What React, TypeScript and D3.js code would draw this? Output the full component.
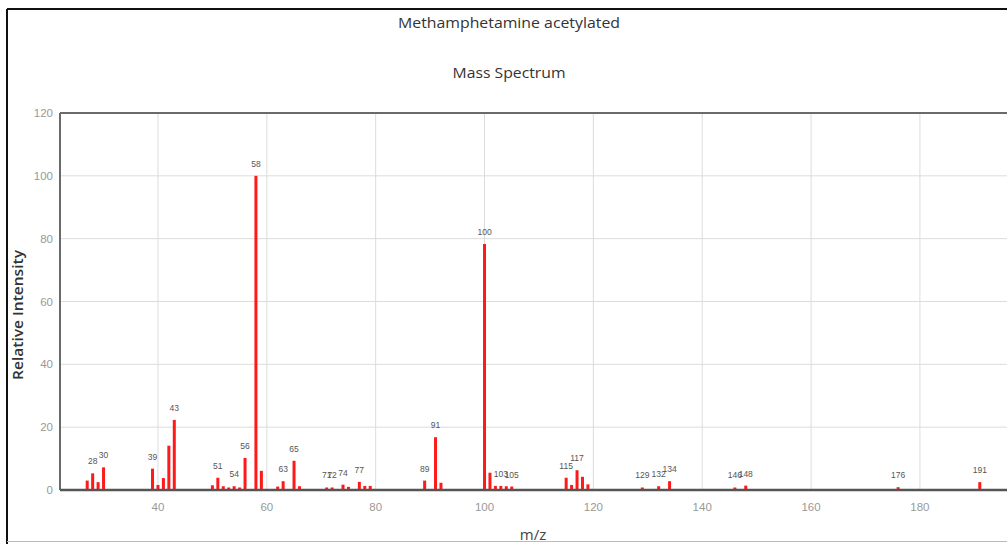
import React from "react";
import * as d3 from "d3";

const mzValues = [27, 28, 29, 30, 39, 40, 41, 42, 43, 50, 51, 52, 53, 54, 55, 56, 58, 59, 62, 63, 65, 66, 71, 72, 74, 75, 77, 78, 79, 89, 91, 92, 100, 101, 102, 103, 104, 105, 115, 116, 117, 118, 119, 129, 132, 134, 146, 148, 176, 191];
const intensities = [3, 5.3, 2.5, 7.2, 6.8, 1.6, 3.8, 14.1, 22.3, 1.5, 3.9, 1.2, 0.8, 1.2, 0.8, 10.2, 100, 6.1, 1.1, 2.8, 9.3, 1.2, 0.8, 0.8, 1.7, 1.0, 2.6, 1.3, 1.3, 3.0, 16.8, 2.3, 78.3, 5.5, 1.3, 1.3, 1.2, 1.1, 3.9, 1.6, 6.3, 4.2, 1.8, 0.8, 1.2, 2.8, 0.8, 1.4, 0.9, 2.5];
const labeledPeaks = [28, 30, 39, 43, 51, 54, 56, 58, 63, 65, 71, 72, 74, 77, 89, 91, 100, 103, 105, 115, 117, 129, 132, 134, 146, 148, 176, 191];
const xTicks = [40, 60, 80, 100, 120, 140, 160, 180];
const yTicks = [0, 20, 40, 60, 80, 100, 120];
const titleText = "Methamphetamine acetylated";
const subtitleText = "Mass Spectrum";
const xLabel = "m/z";
const yLabel = "Relative Intensity";

export default function App() {
  const W = 1007;
  const H = 544;
  const x = d3.scaleLinear().domain([22, 196]).range([60, 1007]);
  const y = d3.scaleLinear().domain([0, 120]).range([490, 113]);
  const peaks = mzValues.map((m, i) => ({ mz: m, v: intensities[i] }));
  const font = "'Liberation Sans', Arial, sans-serif";
  return (
    <svg width={W} height={H} style={{ position: "absolute", left: 0, top: 0, background: "#fff" }}>
      <rect x={0} y={0} width={W} height={H} fill="#fff" />
      {/* outer frame */}
      <line x1={7} y1={9} x2={W} y2={9} stroke="#111" strokeWidth={2} />
      <line x1={7} y1={9} x2={7} y2={H} stroke="#111" strokeWidth={2} />
      <line x1={7} y1={541.5} x2={W} y2={541.5} stroke="#bbb" strokeWidth={1} />
      <text x={509} y={28} textAnchor="middle" fontFamily="'Open Sans', sans-serif" fontSize={14.5} fill="#333" textLength={222} lengthAdjust="spacingAndGlyphs">{titleText}</text>
      <text x={509} y={78} textAnchor="middle" fontFamily="'Open Sans', sans-serif" fontSize={14.5} fill="#333" textLength={113} lengthAdjust="spacingAndGlyphs">{subtitleText}</text>
      {/* grid */}
      {yTicks.filter(t => t > 0 && t < 120).map(t => (
        <line key={"gy" + t} x1={x(22)} x2={W} y1={y(t)} y2={y(t)} stroke="#dcdcdc" strokeWidth={1} />
      ))}
      {xTicks.map(t => (
        <line key={"gx" + t} x1={x(t)} x2={x(t)} y1={y(120)} y2={y(0)} stroke="#dcdcdc" strokeWidth={1} />
      ))}
      {/* plot border */}
      <line x1={x(22)} x2={W} y1={y(120)} y2={y(120)} stroke="#6a6a6a" strokeWidth={2} />
      <line x1={x(22)} x2={x(22)} y1={y(120)} y2={y(0)} stroke="#6a6a6a" strokeWidth={2} />
      {/* bars */}
      {peaks.map(p => (
        <rect key={"b" + p.mz} x={x(p.mz) - 1.5} width={3} y={y(p.v)} height={y(0) - y(p.v)} fill="#ff1a1a" />
      ))}
      <line x1={x(22)} x2={W} y1={y(0)} y2={y(0)} stroke="#555" strokeWidth={2.5} />
      {/* peak labels */}
      {peaks.filter(p => labeledPeaks.includes(p.mz)).map(p => (
        <text key={"l" + p.mz} x={x(p.mz)} y={y(p.v) - 9} textAnchor="middle" fontFamily={font} fontSize={8.5} fill="#555">{p.mz}</text>
      ))}
      {/* y ticks */}
      {yTicks.map(t => (
        <text key={"yt" + t} x={53} y={y(t) + 4} textAnchor="end" fontFamily={font} fontSize={11.5} fill="#999">{t}</text>
      ))}
      {xTicks.map(t => (
        <text key={"xt" + t} x={x(t)} y={511} textAnchor="middle" fontFamily={font} fontSize={11.5} fill="#999">{t}</text>
      ))}
      <text x={533} y={540} textAnchor="middle" fontFamily="'Open Sans', sans-serif" fontSize={15} fill="#444">{xLabel}</text>
      <text transform="translate(23,315) rotate(-90)" textAnchor="middle" fontFamily="'Open Sans', sans-serif" fontSize={14} fontWeight={600} fill="#333" textLength={130} lengthAdjust="spacingAndGlyphs">{yLabel}</text>
    </svg>
  );
}
